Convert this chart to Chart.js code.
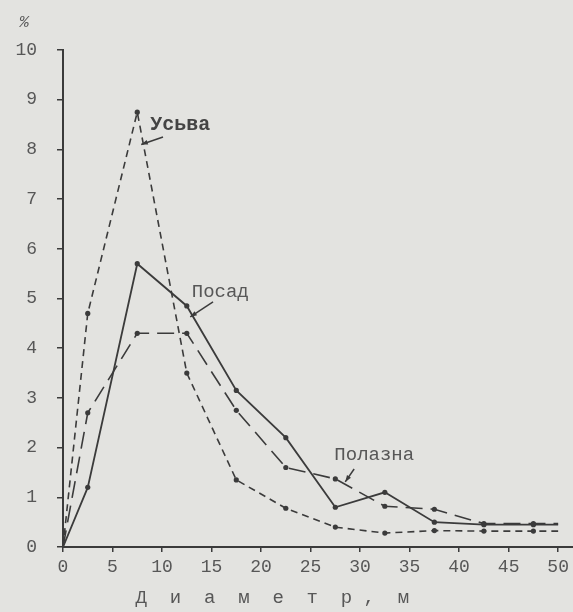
<!DOCTYPE html>
<html>
<head>
<meta charset="utf-8">
<script src="https://cdn.jsdelivr.net/npm/chart.js@4"></script>
<style>
  html, body { margin: 0; padding: 0; background: #e3e3e0; }
  canvas { display: block; }
</style>
</head>
<body>
<canvas id="chart" width="573" height="612"></canvas>
<script>
// Diameter bins (m) and share of craters (%)
const diameters = [0, 2.5, 7.5, 12.5, 17.5, 22.5, 27.5, 32.5, 37.5, 42.5, 47.5, 50];
const posad   = [0, 1.2, 5.7, 4.85, 3.15, 2.2, 0.8, 1.1, 0.5, 0.45, 0.45, 0.45];
const polazna = [0, 2.7, 4.3, 4.3, 2.75, 1.6, 1.37, 0.82, 0.76, 0.47, 0.47, 0.47];
const usva    = [0, 4.7, 8.75, 3.5, 1.35, 0.78, 0.4, 0.28, 0.33, 0.32, 0.32, 0.32];

const xTicks = [0, 5, 10, 15, 20, 25, 30, 35, 40, 45, 50];
const yTicks = [0, 1, 2, 3, 4, 5, 6, 7, 8, 9, 10];

const INK = "#3b3b3b";
const TEXT = "#575757";
const MONO = "'Liberation Mono', 'DejaVu Sans Mono', monospace";

// series labels with their leader arrows (in data units)
const callouts = [
  { text: "Усьва",   bold: true,  at: [8.8, 8.5],  from: [10.1, 8.25], to: [7.9, 8.1] },
  { text: "Посад",   bold: false, at: [13.0, 5.13], from: [15.15, 4.93], to: [12.85, 4.63] },
  { text: "Полазна", bold: false, at: [27.4, 1.85], from: [29.4, 1.57], to: [28.5, 1.31] }
];

const toPoints = ys => diameters.map((d, i) => ({ x: d, y: ys[i] }));
const innerRadius = ctx => (ctx.raw && (ctx.raw.x === 0 || ctx.raw.x === 50)) ? 0 : 2.6;

const calloutPlugin = {
  id: "callouts",
  afterDatasetsDraw(chart) {
    const { ctx, scales: { x, y }, chartArea } = chart;
    ctx.save();
    ctx.strokeStyle = INK;
    ctx.textBaseline = "middle";
    ctx.textAlign = "left";
    callouts.forEach(c => {
      ctx.font = (c.bold ? "bold 20px " : "19px ") + MONO;
      ctx.fillStyle = c.bold ? "#444" : TEXT;
      ctx.fillText(c.text, x.getPixelForValue(c.at[0]), y.getPixelForValue(c.at[1]));

      const x1 = x.getPixelForValue(c.from[0]), y1 = y.getPixelForValue(c.from[1]);
      const x2 = x.getPixelForValue(c.to[0]), y2 = y.getPixelForValue(c.to[1]);
      ctx.lineWidth = 1.5;
      ctx.beginPath();
      ctx.moveTo(x1, y1);
      ctx.lineTo(x2, y2);
      ctx.stroke();
      const a = Math.atan2(y2 - y1, x2 - x1);
      ctx.beginPath();
      ctx.moveTo(x2, y2);
      ctx.lineTo(x2 - 7 * Math.cos(a - 0.35), y2 - 7 * Math.sin(a - 0.35));
      ctx.lineTo(x2 - 7 * Math.cos(a + 0.35), y2 - 7 * Math.sin(a + 0.35));
      ctx.closePath();
      ctx.fillStyle = INK;
      ctx.fill();
    });

    // percent sign above the value axis
    ctx.font = "italic 16px " + MONO;
    ctx.fillStyle = TEXT;
    ctx.textAlign = "center";
    ctx.fillText("%", chartArea.left - 39, chartArea.top - 27);
    ctx.restore();
  }
};

const commonLine = {
  borderColor: INK,
  backgroundColor: INK,
  pointBackgroundColor: INK,
  pointBorderWidth: 0,
  pointRadius: innerRadius,
  fill: false,
  tension: 0
};

new Chart(document.getElementById("chart").getContext("2d"), {
  type: "line",
  data: {
    datasets: [
      { ...commonLine, label: "Посад", data: toPoints(posad), borderWidth: 1.8 },
      { ...commonLine, label: "Полазна", data: toPoints(polazna), borderWidth: 1.6, borderDash: [17, 8] },
      { ...commonLine, label: "Усьва", data: toPoints(usva), borderWidth: 1.6, borderDash: [7, 5] }
    ]
  },
  options: {
    responsive: false,
    animation: false,
    devicePixelRatio: 1,
    layout: { padding: { top: 50, left: 0, right: 0, bottom: 0 } },
    plugins: {
      legend: { display: false },
      tooltip: { enabled: false }
    },
    scales: {
      x: {
        type: "linear",
        min: 0,
        max: 51.5,
        afterBuildTicks: s => { s.ticks = xTicks.map(v => ({ value: v })); },
        afterFit: s => { s.height = 65; },
        border: { display: true, color: INK, width: 2 },
        grid: { drawOnChartArea: false, drawTicks: true, tickLength: 5, color: INK, lineWidth: 1.5 },
        ticks: { color: TEXT, padding: 4, maxRotation: 0, font: { family: MONO, size: 18 } },
        title: {
          display: true,
          // trailing blanks pull the spaced-out caption left, as in the original
          text: "Д  и  а  м  е  т  р ,  м        ",
          color: TEXT,
          padding: { top: 0, bottom: 3 },
          font: { family: MONO, size: 19 }
        }
      },
      y: {
        min: 0,
        max: 10,
        afterBuildTicks: s => { s.ticks = yTicks.map(v => ({ value: v })); },
        afterFit: s => { s.width = 63; },
        border: { display: true, color: INK, width: 2 },
        grid: { drawOnChartArea: false, drawTicks: true, tickLength: 6, color: INK, lineWidth: 1.5 },
        ticks: { color: TEXT, padding: 20, font: { family: MONO, size: 18 } }
      }
    }
  },
  plugins: [calloutPlugin]
});
</script>
</body>
</html>
